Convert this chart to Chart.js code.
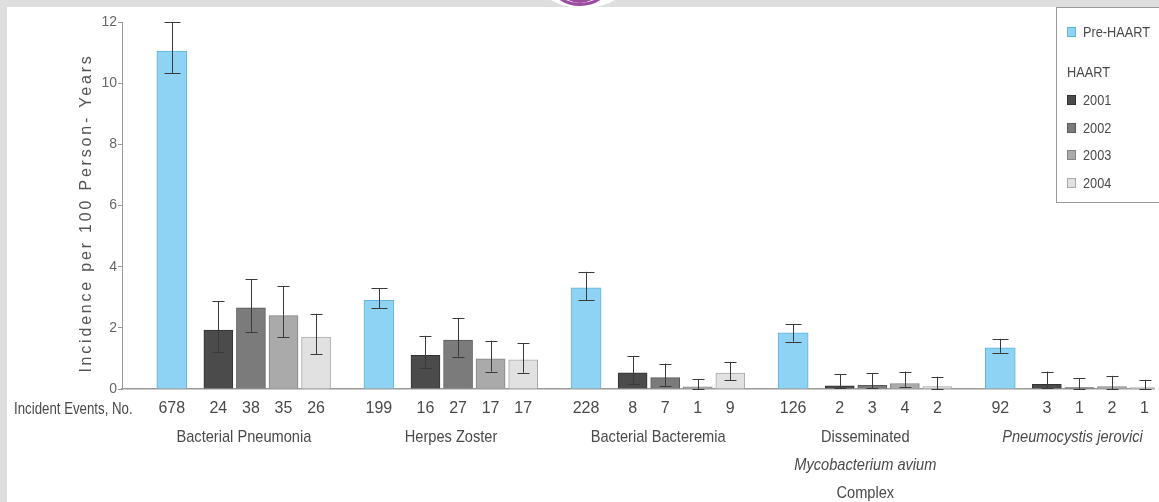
<!DOCTYPE html>
<html>
<head>
<meta charset="utf-8">
<script src="https://cdn.jsdelivr.net/npm/chart.js@4.4.1/dist/chart.umd.min.js"></script>
<style>
  html, body { margin: 0; padding: 0; background: #dedede; overflow: hidden; }
  body { width: 1159px; height: 502px; position: relative; }
  #panel { position: absolute; left: 7px; top: 7px; width: 1152px; height: 495px; background: #fff; }
  #logo { position: absolute; left: 527px; top: -80px; width: 112px; height: 88px; border-radius: 50%; background: #fff; }
  #ring1 { position: absolute; left: 543px; top: -68px; width: 74px; height: 74px; border-radius: 50%; border: 3px solid #9b4a9e; box-sizing: border-box; }
  #ring2 { position: absolute; left: 551px; top: -68px; width: 58px; height: 71px; border-radius: 50%; border: 3px solid #9b4a9e; box-sizing: border-box; }
</style>
</head>
<body>
<div id="panel"><canvas id="incChart"></canvas></div>
<div id="logo"></div>
<div id="ring1"></div>
<div id="ring2"></div>
<script>
// data
var diseases = [['Bacterial Pneumonia'], ['Herpes Zoster'], ['Bacterial Bacteremia'],
                ['Disseminated', 'Mycobacterium avium', 'Complex'], ['Pneumocystis jerovici']];
var italicLines = ['Mycobacterium avium', 'Pneumocystis jerovici'];
var seriesNames = ['Pre-HAART', '2001', '2002', '2003', '2004'];

var preHAART   = [11.05, 2.9, 3.31, 1.84, 1.35];
var preLo      = [10.33, 2.65, 2.9, 1.55, 1.18];
var preHi      = [12.0, 3.3, 3.83, 2.12, 1.64];
var preEvents  = [678, 199, 228, 126, 92];

var h2001      = [1.93, 1.1, 0.53, 0.1, 0.15];
var h2001Lo    = [1.22, 0.68, 0.15, 0.02, 0.02];
var h2001Hi    = [2.88, 1.74, 1.08, 0.48, 0.57];
var ev2001     = [24, 16, 8, 2, 3];

var h2002      = [2.65, 1.6, 0.37, 0.12, 0.05];
var h2002Lo    = [1.87, 1.06, 0.1, 0.02, 0.0];
var h2002Hi    = [3.6, 2.32, 0.83, 0.52, 0.35];
var ev2002     = [38, 27, 7, 3, 1];

var h2003      = [2.4, 0.99, 0.07, 0.18, 0.08];
var h2003Lo    = [1.7, 0.57, 0.0, 0.05, 0.0];
var h2003Hi    = [3.36, 1.58, 0.33, 0.57, 0.43];
var ev2003     = [35, 17, 1, 4, 2];

var h2004      = [1.7, 0.95, 0.52, 0.08, 0.05];
var h2004Lo    = [1.14, 0.53, 0.29, 0.0, 0.0];
var h2004Hi    = [2.46, 1.5, 0.89, 0.4, 0.3];
var ev2004     = [26, 17, 9, 2, 1];

var yTicks = [0, 2, 4, 6, 8, 10, 12];

// layout of the groups on a linear x scale (1 unit = one HAART bar step)
var GROUP_STEP = 6.36;
var HAART_OFFSET = 1.43;
function barX(g, s) { return g * GROUP_STEP + (s === 0 ? 0 : HAART_OFFSET + s - 1); }

var FONT = "'Liberation Sans', Arial, sans-serif";
var TXT = '#4a4a4a';

var fills   = ['#8ed3f3', '#4b4b4b', '#7b7b7b', '#aaaaaa', '#e1e1e1'];
var borders = ['#62b5dc', '#333333', '#5a5a5a', '#858585', '#a8a8a8'];
var values  = [preHAART, h2001, h2002, h2003, h2004];
var lows    = [preLo, h2001Lo, h2002Lo, h2003Lo, h2004Lo];
var highs   = [preHi, h2001Hi, h2002Hi, h2003Hi, h2004Hi];
var events  = [preEvents, ev2001, ev2002, ev2003, ev2004];

var datasets = values.map(function (vals, s) {
  return {
    label: seriesNames[s],
    data: vals.map(function (v, g) { return { x: barX(g, s), y: v }; }),
    errLo: lows[s],
    errHi: highs[s],
    backgroundColor: fills[s],
    borderColor: borders[s],
    borderWidth: 1,
    barThickness: s === 0 ? 30 : 29,
    grouped: false
  };
});

// tick positions and their event-count labels
var tickPos = [], tickText = [];
for (var g = 0; g < diseases.length; g++) {
  for (var s = 0; s < seriesNames.length; s++) {
    tickPos.push(barX(g, s));
    tickText.push(String(events[s][g]));
  }
}

// narrow text: squeeze horizontally, the original uses a condensed face
function narrowText(ctx, text, x, y, sx) {
  ctx.save();
  ctx.translate(x, y);
  ctx.scale(sx, 1);
  ctx.fillText(text, 0, 0);
  ctx.restore();
}

var errorBars = {
  id: 'errorBars',
  afterDatasetsDraw: function (chart) {
    var ctx = chart.ctx, y = chart.scales.y;
    ctx.save();
    ctx.strokeStyle = '#3a3a3a';
    ctx.lineWidth = 1;
    chart.data.datasets.forEach(function (ds, i) {
      var meta = chart.getDatasetMeta(i);
      var cap = i === 0 ? 8 : 6;
      meta.data.forEach(function (bar, j) {
        var x = Math.round(bar.x) + 0.5;
        var yl = y.getPixelForValue(ds.errLo[j]);
        var yh = y.getPixelForValue(ds.errHi[j]);
        ctx.beginPath();
        ctx.moveTo(x, yl); ctx.lineTo(x, yh);
        ctx.moveTo(x - cap, Math.round(yh) + 0.5); ctx.lineTo(x + cap, Math.round(yh) + 0.5);
        ctx.moveTo(x - cap, Math.round(yl) + 0.5); ctx.lineTo(x + cap, Math.round(yl) + 0.5);
        ctx.stroke();
      });
    });
    ctx.restore();
  }
};

var annotations = {
  id: 'annotations',
  afterDraw: function (chart) {
    var ctx = chart.ctx, x = chart.scales.x;
    ctx.save();
    ctx.fillStyle = TXT;
    // row caption
    ctx.font = '17px ' + FONT;
    ctx.textAlign = 'left';
    ctx.textBaseline = 'middle';
    narrowText(ctx, 'Incident Events, No.', 7, 402, 0.78);
    // disease group names
    ctx.textAlign = 'center';
    diseases.forEach(function (lines, g) {
      var cx = x.getPixelForValue((barX(g, 0) + barX(g, 4)) / 2);
      lines.forEach(function (line, k) {
        ctx.font = (italicLines.indexOf(line) >= 0 ? 'italic ' : '') + '17px ' + FONT;
        narrowText(ctx, line, cx, 430 + k * 28, 0.86);
      });
    });
    // y axis title
    ctx.save();
    ctx.translate(80, 206);
    ctx.rotate(-Math.PI / 2);
    ctx.font = '16px ' + FONT;
    ctx.letterSpacing = '2.8px';
    ctx.fillStyle = '#555';
    ctx.fillText('Incidence per 100 Person- Years', 0, 0);
    ctx.restore();

    // legend box
    ctx.fillStyle = '#fff';
    ctx.fillRect(1049, 1, 110, 194);
    ctx.strokeStyle = '#9a9a9a';
    ctx.lineWidth = 1;
    ctx.strokeRect(1049.5, 0.5, 110, 195);
    ctx.font = '15px ' + FONT;
    ctx.textAlign = 'left';
    var rows = [25, 93, 121, 148, 176];
    rows.forEach(function (ry, s) {
      ctx.fillStyle = fills[s];
      ctx.fillRect(1060, ry - 5, 9, 10);
      ctx.strokeStyle = borders[s];
      ctx.strokeRect(1060.5, ry - 4.5, 8, 9);
      ctx.fillStyle = TXT;
      narrowText(ctx, seriesNames[s], 1076, ry + 1, 0.85);
    });
    narrowText(ctx, 'HAART', 1060, 66, 0.85);
    ctx.restore();
  }
};

var chart = new Chart(document.getElementById('incChart'), {
  type: 'bar',
  data: { datasets: datasets },
  options: {
    responsive: true,
    maintainAspectRatio: false,
    animation: false,
    layout: { padding: { top: 15, left: 0, right: 0, bottom: 0 } },
    plugins: { legend: { display: false }, tooltip: { enabled: false } },
    scales: {
      x: {
        type: 'linear',
        min: -1.529,
        max: 30.18,
        offset: false,
        grid: { display: true, drawOnChartArea: false, drawTicks: false, offset: false },
        border: { display: true, color: '#9a9a9a', width: 1.5 },
        afterBuildTicks: function (scale) {
          scale.ticks = tickPos.map(function (v) { return { value: v }; });
        },
        afterFit: function (scale) { scale.height = 113; },
        ticks: {
          autoSkip: false,
          maxRotation: 0,
          padding: 10,
          color: TXT,
          font: { family: FONT, size: 16 },
          callback: function (value, index) { return tickText[index]; }
        }
      },
      y: {
        min: 0,
        max: 12,
        afterBuildTicks: function (scale) {
          scale.ticks = yTicks.map(function (v) { return { value: v }; });
        },
        afterFit: function (scale) { scale.width = 115; },
        grid: { drawOnChartArea: false, tickLength: 4, color: '#9a9a9a' },
        border: { display: true, color: '#9a9a9a', width: 1 },
        ticks: {
          padding: 1,
          color: '#666',
          font: { family: FONT, size: 14 }
        }
      }
    }
  },
  plugins: [errorBars, annotations]
});
</script>
</body>
</html>
